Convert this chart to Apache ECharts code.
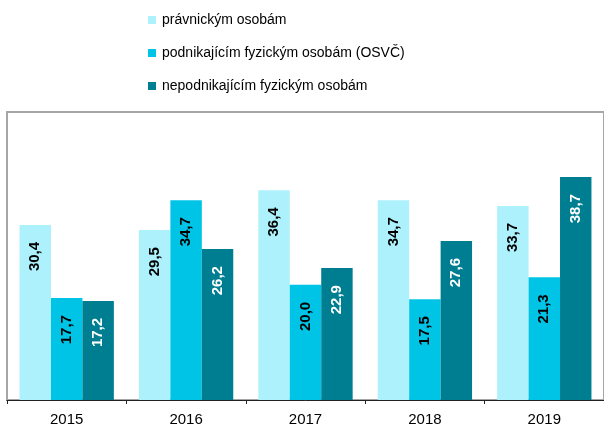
<!DOCTYPE html>
<html>
<head>
<meta charset="utf-8">
<script src="https://cdn.jsdelivr.net/npm/echarts@6/dist/echarts.min.js"></script>
<style>
  html, body { margin: 0; padding: 0; background: #fff; }
  #chart { width: 604px; height: 427px; }
</style>
</head>
<body>
<div id="chart"></div>
<script>
const years = ['2015', '2016', '2017', '2018', '2019']
const seriesNames = [
  'právnickým osobám',
  'podnikajícím fyzickým osobám (OSVČ)',
  'nepodnikajícím fyzickým osobám'
]
const pravnicke = [30.4, 29.5, 36.4, 34.7, 33.7]
const osvc = [17.7, 34.7, 20.0, 17.5, 21.3]
const nepodnikajici = [17.2, 26.2, 22.9, 27.6, 38.7]

const colors = ['#adf1fc', '#00c4e6', '#007e91']
const labelColors = ['#000', '#000', '#fff']

const makeSeries = (name, data, i) => ({
  name,
  type: 'bar',
  data,
  barGap: 0,
  barCategoryGap: '21%',
  itemStyle: { color: colors[i] },
  label: {
    show: true,
    position: 'insideTop',
    distance: 17,
    rotate: 90,
    align: 'right',
    verticalAlign: 'middle',
    color: labelColors[i],
    fontFamily: 'Liberation Sans, Arial, sans-serif',
    fontWeight: 'bold',
    fontSize: 15,
    formatter: (p) => p.value.toFixed(1).replace('.', ',')
  }
})

const chart = echarts.init(document.getElementById('chart'))
chart.setOption({
  animation: false,
  textStyle: { fontFamily: 'Liberation Sans, Arial, sans-serif' },
  legend: {
    orient: 'vertical',
    left: 143,
    top: 8,
    itemWidth: 8,
    itemHeight: 8,
    itemGap: 19,
    icon: 'rect',
    textStyle: { fontSize: 14, color: '#000', padding: [0, 0, 0, 1] },
    data: seriesNames
  },
  grid: {
    left: 7,
    top: 112,
    width: 600,
    bottom: 26,
    show: true,
    borderColor: '#a6a6a6',
    borderWidth: 2,
    containLabel: false
  },
  xAxis: {
    type: 'category',
    data: years,
    axisLine: { lineStyle: { color: '#222', width: 1 } },
    axisTick: { show: true, length: 4, lineStyle: { color: '#222' } },
    axisLabel: { fontSize: 15, color: '#000', margin: 12 }
  },
  yAxis: {
    type: 'value',
    min: 0,
    max: 50,
    show: false,
    splitLine: { show: false }
  },
  series: [
    makeSeries(seriesNames[0], pravnicke, 0),
    makeSeries(seriesNames[1], osvc, 1),
    makeSeries(seriesNames[2], nepodnikajici, 2)
  ]
})
</script>
</body>
</html>
